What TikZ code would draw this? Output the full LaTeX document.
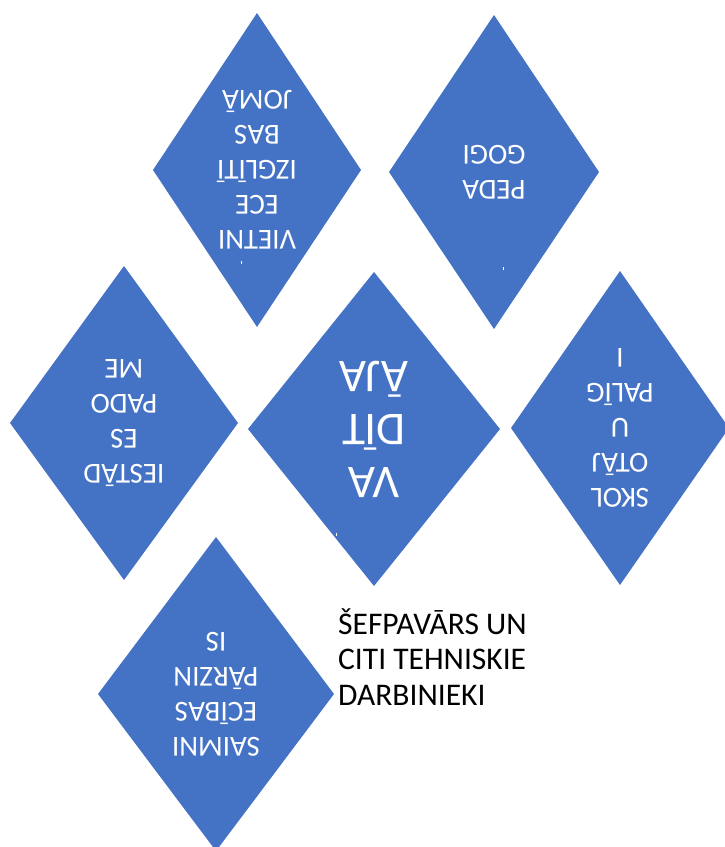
\documentclass[tikz,border=0pt]{standalone}
\usepackage{fontspec}
\setmainfont{Carlito}
\usetikzlibrary{calc}
\definecolor{officeblue}{HTML}{4472C4}
\tikzset{
  diabox/.style={fill=officeblue, draw=none},
  diatext/.style={text=white, align=center, rotate=180, inner sep=0pt,
    font=\fontsize{29}{35}\selectfont},
  bigtext/.style={diatext, font=\fontsize{47}{53}\selectfont},
  sidetext/.style={text=black, align=left, inner sep=0pt, anchor=base west,
    font=\fontsize{31.5}{35.5}\selectfont},
  tick/.style={draw=white, line width=0.8pt}
}
% #1 name, #2 cx, #3 cy, #4 half width, #5 half height
\newcommand\blueDia[5]{%
  \coordinate (#1) at (#2,#3);
  \fill[diabox] ($(#1)+(0,-#5)$) -- ($(#1)+(#4,0)$) -- ($(#1)+(0,#5)$) -- ($(#1)+(-#4,0)$) -- cycle;
}
\begin{document}
\begin{tikzpicture}[x=1pt,y=-1pt]
\useasboundingbox (0,0) rectangle (725,847);
\clip (0,0) rectangle (725,847);
\blueDia{d1}{257}{170}{104}{157}
\blueDia{d2}{494}{172}{105}{157}
\blueDia{d3}{124}{423}{114}{157}
\blueDia{d4}{374}{429}{126}{157}
\blueDia{d5}{620}{428}{109}{157}
\blueDia{d6}{216}{694}{118}{157}
\node[diatext] (t1) at (d1) {VIETNI\\ECE\\IZGLĪTĪ\\BAS\\JOMĀ};
\node[diatext] (t2) at (d2) {PEDA\\GOGI};
\node[diatext] (t3) at (d3) {IESTĀD\\ES\\PADO\\ME};
\node[bigtext] (t4) at (d4) {VA\\DĪT\\ĀJA};
\node[diatext] (t5) at (d5) {SKOL\\OTĀJ\\U\\PALĪG\\I};
\node[diatext] (t6) at (d6) {SAIMNI\\ECĪBAS\\PĀRZIN\\IS};
\node[sidetext] (side) at (338,705) {ŠEFPAVĀRS UN\\CITI TEHNISKIE\\DARBINIEKI};
\draw[tick] (241,261) -- (241,264);
\draw[tick] (503,267) -- (503,270);
\draw[tick] (336,533) -- (336,536);
\end{tikzpicture}
\end{document}
